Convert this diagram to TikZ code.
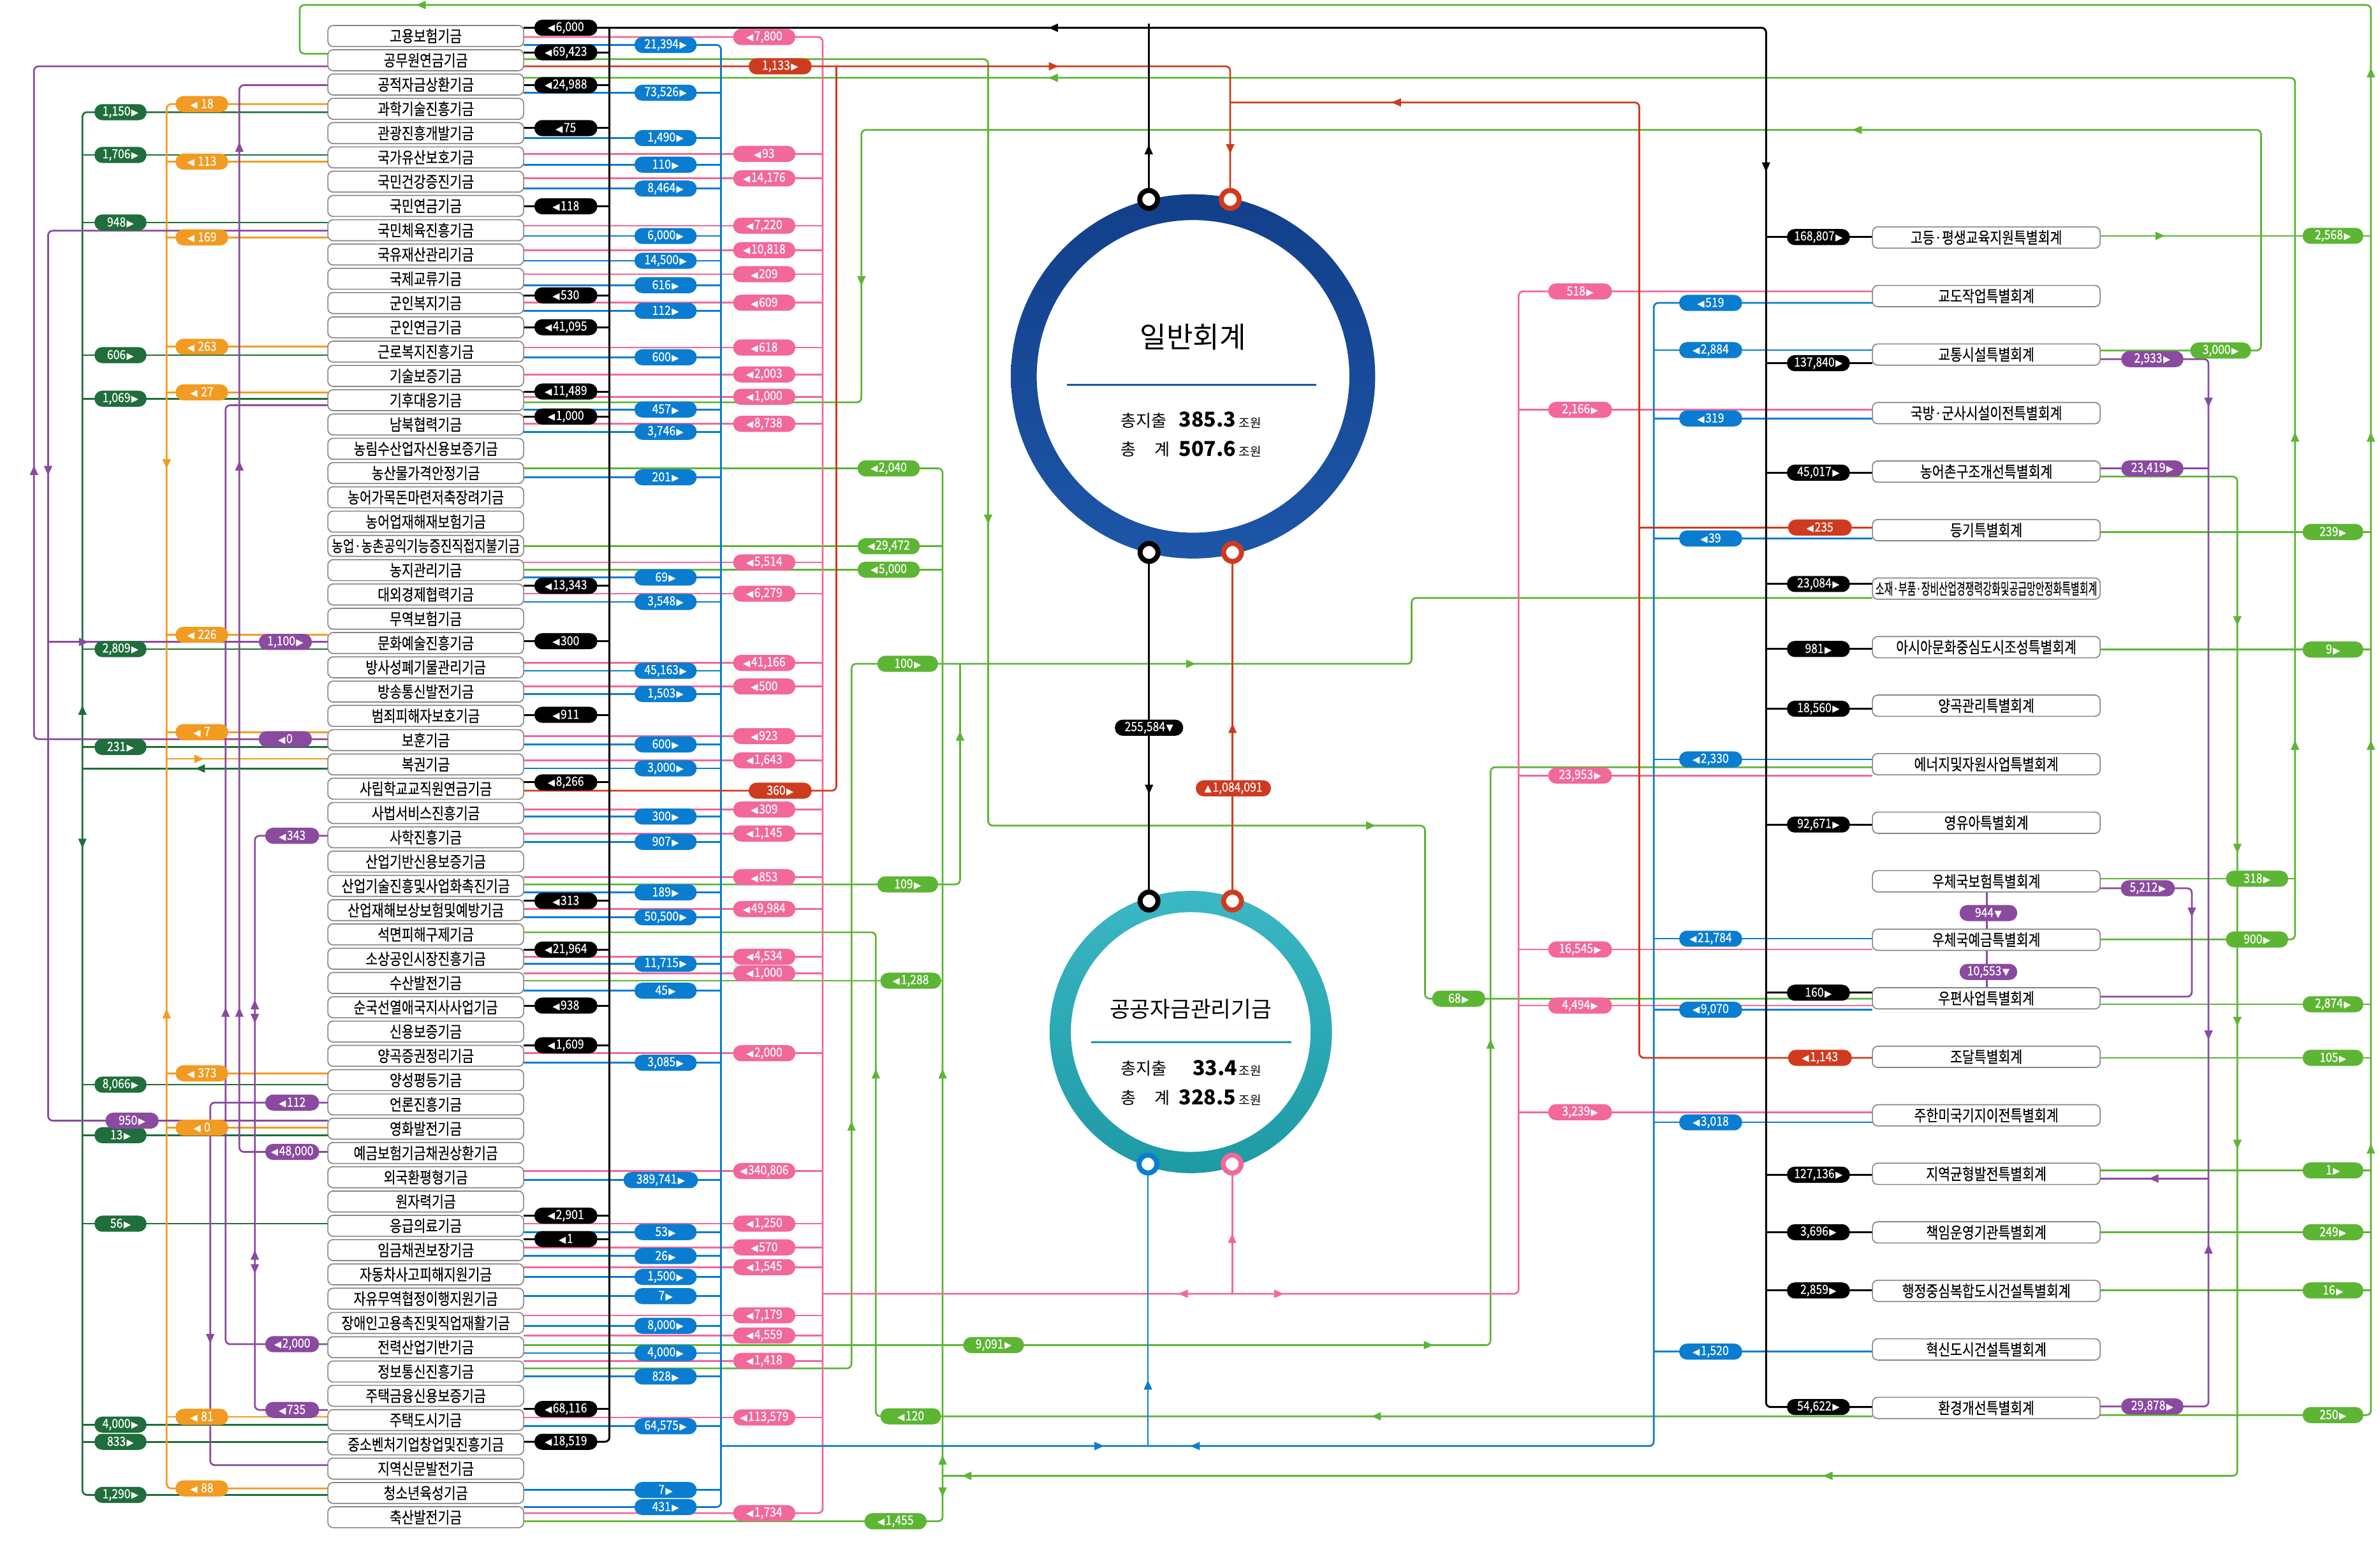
\documentclass[tikz,border=0pt]{standalone}
\usepackage{fontspec}
\usepackage{graphicx}
\setmainfont{Noto Sans CJK KR}
\newfontfamily\krn[FakeStretch=0.82,FakeBold=0.25]{Noto Sans CJK KR}
\newfontfamily\numf[FakeStretch=0.88,FakeBold=0.3]{Noto Sans CJK KR}
\newfontfamily\symf{DejaVu Sans}
\definecolor{cblu}{HTML}{0A7DD1}
\definecolor{cpnk}{HTML}{F2689A}
\definecolor{cred}{HTML}{CF3B1F}
\definecolor{cgrn}{HTML}{5DB534}
\definecolor{cdgr}{HTML}{1F6E3B}
\definecolor{corg}{HTML}{F29B22}
\definecolor{cpur}{HTML}{8A4A9F}
\definecolor{cnavyT}{HTML}{123F8A}
\definecolor{cnavyB}{HTML}{1D56A8}
\definecolor{ctealT}{HTML}{3BB7C5}
\definecolor{ctealB}{HTML}{1D9AA4}
\newcommand\tL{{\symf\fontsize{6.2}{6}\selectfont ◀}\kern0.6pt}
\newcommand\tR{\kern0.6pt{\symf\fontsize{6.2}{6}\selectfont ▶}}
\newcommand\tD{\kern0.6pt{\symf\fontsize{6.2}{6}\selectfont ▼}}
\newcommand\tU{{\symf\fontsize{6.2}{6}\selectfont ▲}\kern0.6pt}
\newcommand\fitw[2]{\sbox0{#2}\ifdim\wd0>#1\relax\resizebox{#1}{\height}{#2}\else\usebox0\fi}
\newcounter{pc}
\newcommand\pill[5]{\stepcounter{pc}\node[pill,fill=#1,minimum width=#2] (pl\thepc) at (#3,#4) {#5};}
\newcommand\aR[3]{\fill[#1] ({#2+3.2},{#3}) -- ({#2-3},{#3-2.8}) -- ({#2-3},{#3+2.8}) -- cycle;}
\newcommand\aL[3]{\fill[#1] ({#2-3.2},{#3}) -- ({#2+3},{#3-2.8}) -- ({#2+3},{#3+2.8}) -- cycle;}
\newcommand\aD[3]{\fill[#1] ({#2},{#3+3.2}) -- ({#2-2.8},{#3-3}) -- ({#2+2.8},{#3-3}) -- cycle;}
\newcommand\aU[3]{\fill[#1] ({#2},{#3-3.2}) -- ({#2-2.8},{#3+3}) -- ({#2+2.8},{#3+3}) -- cycle;}
\tikzset{
  ln/.style={line width=1.15pt, rounded corners=3pt},
  fund/.style={draw=black!48, fill=white, rounded corners=3.5pt, line width=0.7pt, minimum width=129pt, minimum height=13.8pt, inner sep=0pt, font=\krn\fontsize{10.5}{10.5}\selectfont},
  spec/.style={fund, minimum width=150pt, minimum height=14pt},
  pill/.style={rounded corners=5.2pt, minimum height=10.6pt, inner sep=0.8pt, text=white, font=\numf\fontsize{8.4}{8.4}\selectfont},
  sc/.style={circle, fill=white, line width=3.3pt, minimum size=11.8pt, inner sep=0pt},
  txt/.style={inner sep=0pt, anchor=west},
}
\begin{document}
\begin{tikzpicture}[x=1pt,y=-1pt]
\fill[white] (0,0) rectangle (1568,1018);
\useasboundingbox (0,0) rectangle (1568,1018);

% ---------------- LEFT SIDE BUSES (dark green, orange, purple) -------------
\draw[ln,cdgr] (216,73.9) -- (54.3,73.9) -- (54.3,985) -- (216,985);
\foreach \y in {102.1,146.6,234,262.7,427.7,492.2,506.4,714.7,748,806.3,938.7,950}
  \draw[ln,cdgr] (54.3,\y) -- (216,\y);
\draw[ln,corg] (216,68.6) -- (109.8,68.6) -- (109.8,980.7) -- (216,980.7);
\foreach \y in {106.5,156.4,228.5,258.5,418.3,482.4,500,707.2,743,933.6}
  \draw[ln,corg] (109.8,\y) -- (216,\y);
\draw[ln,cpur] (216,487) -- (22.4,487) -- (22.4,43.7) -- (216,43.7);
\draw[ln,cpur] (216,152) -- (31.7,152) -- (31.7,738.4) -- (216,738.4);
\draw[ln,cpur] (31.7,423) -- (216,423);
\draw[ln,cpur] (216,56.1) -- (157.7,56.1) -- (157.7,759) -- (216,759);
\draw[ln,cpur] (216,267) -- (148.6,267) -- (148.6,885.7) -- (216,885.7);
\draw[ln,cpur] (216,550.7) -- (167.9,550.7) -- (167.9,929) -- (216,929);
\draw[ln,cpur] (216,726.5) -- (138.5,726.5) -- (138.5,965.4) -- (216,965.4);

% ---------------- GREEN LONG ROUTES -------------
\draw[ln,cgrn] (216,35.4) -- (197.5,35.4) -- (197.5,3.3) -- (1562,3.3) -- (1562,932.4) -- (1383.6,932.4);
\foreach \y in {155.4,350.5,428,661.7,697,771.2,811.9,850.3}
  \draw[ln,cgrn] (1383.6,\y) -- (1562,\y);
\draw[ln,cgrn] (345,39) -- (651,39) -- (651,544) -- (938.8,544) -- (938.8,658) -- (1233.6,658);
\draw[ln,cgrn] (345,51.3) -- (1512,51.3) -- (1512,619) -- (1383.6,619);
\draw[ln,cgrn] (1383.6,579) -- (1512,579);
\draw[ln,cgrn] (345,265.1) -- (567.5,265.1) -- (567.5,85.6) -- (1489.6,85.6) -- (1489.6,231) -- (1383.6,231);
\draw[ln,cgrn] (1383.6,314) -- (1474,314) -- (1474,972.4) -- (621,972.4);
\draw[ln,cgrn] (345,308.6) -- (621,308.6) -- (621,1002.4) -- (345,1002.4);
\foreach \y in {359.9,375.4,646.2} \draw[ln,cgrn] (345,\y) -- (621,\y);
\draw[ln,cgrn] (345,901.6) -- (561,901.6) -- (561,437.4) -- (930,437.4) -- (930,394) -- (1233.6,394);
\draw[ln,cgrn] (345,582.7) -- (632.5,582.7) -- (632.5,437.4);
\draw[ln,cgrn] (345,614.3) -- (577,614.3) -- (577,933.2) -- (1233.6,933.2);
\draw[ln,cgrn] (345,886.3) -- (982,886.3) -- (982,505.5) -- (1233.6,505.5);

% ---------------- PURPLE RIGHT -------------
\draw[ln,cpur] (1383.6,236.6) -- (1455,236.6) -- (1455,926.7) -- (1383.6,926.7);
\foreach \y in {308.7,776.5} \draw[ln,cpur] (1383.6,\y) -- (1455,\y);
\draw[ln,cpur] (1383.6,585.3) -- (1444,585.3) -- (1444,656.7) -- (1383.6,656.7);
\draw[ln,cpur] (1309,587.7) -- (1309,612.2);
\draw[ln,cpur] (1309,626.2) -- (1309,650.8);

% ---------------- PINK -------------
\draw[ln,cpnk] (345,24.4) -- (542,24.4) -- (542,997) -- (345,997);
\foreach \y in {101.4,117.5,148.7,164.8,180.7,199.5,229,246.7,261.4,279.3,370.6,391.2,436.8,452.3,485,501,533.4,549.2,578,599,630.4,641.4,694,771.6,806.3,821.9,834.9,866.7,880,896.7,934}
  \draw[ln,cpnk] (345,\y) -- (542,\y);
\draw[ln,cpnk] (1233.6,192) -- (1000.5,192) -- (1000.5,852.5) -- (542,852.5);
\foreach \y in {270,511,625.6,662.6,732.8} \draw[ln,cpnk] (1000.5,\y) -- (1233.6,\y);
\draw[ln,cpnk] (811.8,852.5) -- (811.8,767);

% ---------------- BLUE -------------
\draw[ln,cblu] (345,29.6) -- (475,29.6) -- (475,993) -- (345,993);
\foreach \y in {61.1,91,108.5,124.3,155.5,171.8,187.9,204.8,235.4,269.8,284.5,314.5,380.5,396.6,442,457.3,490.5,506.3,538,554.7,588,604.4,635,652.8,700.3,777.6,811.8,827.6,841.4,854,873.6,891.5,907,939.8,981.8}
  \draw[ln,cblu] (345,\y) -- (475,\y);
\draw[ln,cblu] (1233.6,199.6) -- (1089.5,199.6) -- (1089.5,952.8) -- (475,952.8);
\foreach \y in {230.7,275.7,354.8,500.4,618.5,665.3,739.5,890.6} \draw[ln,cblu] (1089.5,\y) -- (1233.6,\y);
\draw[ln,cblu] (756.3,952.8) -- (756.3,767);

% ---------------- RED -------------
\draw[ln,cred] (345,43.7) -- (810.5,43.7) -- (810.5,131);
\draw[ln,cred] (345,521) -- (551,521) -- (551,43.7);
\draw[ln,cred] (1233.6,697) -- (1080,697) -- (1080,67.5) -- (810.5,67.5);
\draw[ln,cred] (1233.6,347.6) -- (1080,347.6);
\draw[ln,cred] (812,364) -- (812,593.7);

% ---------------- BLACK -------------
\draw[ln,black,line width=1.25pt] (345,18.3) -- (1163.5,18.3) -- (1163.5,927.1) -- (1233.6,927.1);
\draw[ln,black,line width=1.25pt] (401.5,18.3) -- (401.5,950) -- (345,950);
\foreach \y in {34.5,56.1,84.4,135.9,194.6,215.6,258,274.5,386,422.5,471,515.5,593.6,625.7,662.6,688.7,801,816.4,928.4}
  \draw[ln,black,line width=1.25pt] (345,\y) -- (401.5,\y);
\foreach \y in {156.2,239.3,311.4,384.8,427.6,467,543.3,654.1,774,811.9,850.3}
  \draw[ln,black,line width=1.25pt] (1163.5,\y) -- (1233.6,\y);
\draw[black,line width=1.25pt] (756.8,15.7) -- (756.8,131);
\draw[ln,black,line width=1.25pt] (757,364) -- (757,593.7);

% ---------------- CIRCLES -------------
\shade[top color=cnavyT, bottom color=cnavyB, even odd rule] (786,248) circle (120) (786,248) circle (103);
\shade[top color=ctealT, bottom color=ctealB, even odd rule] (784.5,680) circle (93) (784.5,680) circle (79);
\node[inner sep=0pt] (gtitle) at (786,222) {\fontsize{19}{19}\selectfont 일반회계};
\draw[cnavyB, line width=1.2pt] (703,253.4) -- (867,253.4);
\node[txt] (g1a) at (738,277) {\fontsize{11}{11}\selectfont 총지출};
\node[txt] (g1b) at (776.5,276.5) {\fontsize{13.5}{13.5}\selectfont\bfseries 385.3};
\node[txt] (g1c) at (816,278.5) {\fontsize{8}{8}\selectfont 조원};
\node[txt] (g2a) at (738,296) {\fontsize{11}{11}\selectfont 총};
\node[txt] (g2b) at (760.5,296) {\fontsize{11}{11}\selectfont 계};
\node[txt] (g2c) at (776.5,295.5) {\fontsize{13.5}{13.5}\selectfont\bfseries 507.6};
\node[txt] (g2d) at (816,297.5) {\fontsize{8}{8}\selectfont 조원};
\node[inner sep=0pt] (ptitle) at (784.5,665) {\fontsize{14.5}{14.5}\selectfont 공공자금관리기금};
\draw[ctealB, line width=1.2pt] (719,686.6) -- (851,686.6);
\node[txt] (p1a) at (738,704) {\fontsize{11}{11}\selectfont 총지출};
\node[txt] (p1b) at (785.5,703.5) {\fontsize{13.5}{13.5}\selectfont\bfseries 33.4};
\node[txt] (p1c) at (816,705.5) {\fontsize{8}{8}\selectfont 조원};
\node[txt] (p2a) at (738,723.4) {\fontsize{11}{11}\selectfont 총};
\node[txt] (p2b) at (760.5,723.4) {\fontsize{11}{11}\selectfont 계};
\node[txt] (p2c) at (776.5,722.9) {\fontsize{13.5}{13.5}\selectfont\bfseries 328.5};
\node[txt] (p2d) at (816,724.9) {\fontsize{8}{8}\selectfont 조원};
\node[sc,draw=black] (c1) at (756.8,131.4) {};
\node[sc,draw=cred] (c2) at (810.5,131.4) {};
\node[sc,draw=black] (c3) at (757,364) {};
\node[sc,draw=cred] (c4) at (812,364) {};
\node[sc,draw=black] (c5) at (757,593.7) {};
\node[sc,draw=cred] (c6) at (812,593.7) {};
\node[sc,draw=cblu] (c7) at (756.3,767) {};
\node[sc,draw=cpnk] (c8) at (811.8,767) {};

% ---------------- BOXES -------------
\foreach \i/\nm in {1/고용보험기금,2/공무원연금기금,3/공적자금상환기금,4/과학기술진흥기금,5/관광진흥개발기금,6/국가유산보호기금,7/국민건강증진기금,8/국민연금기금,9/국민체육진흥기금,10/국유재산관리기금,11/국제교류기금,12/군인복지기금,13/군인연금기금,14/근로복지진흥기금,15/기술보증기금,16/기후대응기금,17/남북협력기금,18/농림수산업자신용보증기금,19/농산물가격안정기금,20/농어가목돈마련저축장려기금,21/농어업재해재보험기금,22/농업·농촌공익기능증진직접지불기금,23/농지관리기금,24/대외경제협력기금,25/무역보험기금,26/문화예술진흥기금,27/방사성폐기물관리기금,28/방송통신발전기금,29/범죄피해자보호기금,30/보훈기금,31/복권기금,32/사립학교교직원연금기금,33/사법서비스진흥기금,34/사학진흥기금,35/산업기반신용보증기금,36/산업기술진흥및사업화촉진기금,37/산업재해보상보험및예방기금,38/석면피해구제기금,39/소상공인시장진흥기금,40/수산발전기금,41/순국선열애국지사사업기금,42/신용보증기금,43/양곡증권정리기금,44/양성평등기금,45/언론진흥기금,46/영화발전기금,47/예금보험기금채권상환기금,48/외국환평형기금,49/원자력기금,50/응급의료기금,51/임금채권보장기금,52/자동차사고피해지원기금,53/자유무역협정이행지원기금,54/장애인고용촉진및직업재활기금,55/전력산업기반기금,56/정보통신진흥기금,57/주택금융신용보증기금,58/주택도시기금,59/중소벤처기업창업및진흥기금,60/지역신문발전기금,61/청소년육성기금,62/축산발전기금}
  \node[fund] (f\i) at (280.5,{23.7+16*(\i-1)}) {\fitw{124pt}{\nm}};
\foreach \i/\nm in {1/고등·평생교육지원특별회계,2/교도작업특별회계,3/교통시설특별회계,4/국방·군사시설이전특별회계,5/농어촌구조개선특별회계,6/등기특별회계,7/소재·부품·장비산업경쟁력강화및공급망안정화특별회계,8/아시아문화중심도시조성특별회계,9/양곡관리특별회계,10/에너지및자원사업특별회계,11/영유아특별회계,12/우체국보험특별회계,13/우체국예금특별회계,14/우편사업특별회계,15/조달특별회계,16/주한미국기지이전특별회계,17/지역균형발전특별회계,18/책임운영기관특별회계,19/행정중심복합도시건설특별회계,20/혁신도시건설특별회계,21/환경개선특별회계}
  \node[spec] (s\i) at (1308.6,{156.5+38.56*(\i-1)}) {\fitw{146pt}{\nm}};

% ---------------- ARROWS ON LINES -------------
\aL{black}{694}{18.3} \aU{black}{756.8}{98.7} \aD{black}{1163.5}{110} \aD{black}{757}{520}
\aR{cred}{694}{43.7} \aD{cred}{810.5}{98} \aL{cred}{920}{67.5} \aU{cred}{812}{480}
\aL{cgrn}{277.5}{3.3} \aR{cgrn}{1423}{155.4} \aD{cgrn}{651}{342} \aR{cgrn}{903}{544}
\aL{cgrn}{694}{51.3} \aL{cgrn}{1223.6}{85.6} \aD{cgrn}{567.5}{185}
\foreach \y in {48,288,491,757} {\aU{cgrn}{1562}{\y}}
\foreach \y in {288,491} {\aU{cgrn}{1512}{\y}}
\foreach \y in {409,559,673,754} {\aD{cgrn}{1474}{\y}}
\aL{cgrn}{1204.3}{972.4} \aL{cgrn}{637}{972.4} \aU{cgrn}{621}{707.6} \aU{cgrn}{621}{962} \aD{cgrn}{621}{983}
\aU{cgrn}{561}{742} \aR{cgrn}{784.5}{437.4} \aU{cgrn}{632.5}{485} \aL{cgrn}{906.8}{933.2} \aU{cgrn}{577}{707.6}
\aR{cgrn}{941}{886.3} \aU{cgrn}{982}{688}
\aR{cblu}{724}{952.8} \aL{cblu}{787.5}{952.8} \aU{cblu}{756.3}{912.6}
\aL{cpnk}{779.6}{852.5} \aR{cpnk}{842.5}{852.5} \aU{cpnk}{811.8}{816}
\aD{cpur}{1455}{265} \aD{cpur}{1455}{682} \aU{cpur}{1455}{823} \aL{cpur}{1419}{776.5} \aD{cpur}{1444}{601}
\aU{cpur}{22.4}{310} \aD{cpur}{31.7}{310} \aR{cpur}{55}{423}
\aU{cpur}{157.7}{97} \aU{cpur}{157.7}{307} \aU{cpur}{157.7}{667} \aU{cpur}{148.6}{667}
\aU{cpur}{167.9}{662} \aD{cpur}{167.9}{671} \aU{cpur}{167.9}{827} \aD{cpur}{167.9}{836} \aD{cpur}{138.5}{882}
\aD{corg}{109.8}{305.6} \aU{corg}{109.8}{668} \aR{corg}{131}{500}
\aU{cdgr}{54.3}{468} \aD{cdgr}{54.3}{555.6} \aL{cdgr}{132}{506.4}

% ---------------- PILLS -------------
\foreach \y/\lab in {18.3/{6,000},34.5/{69,423},56.1/{24,988},84.4/{75},135.9/{118},194.6/{530},215.6/{41,095},258/{11,489},274.5/{1,000},386/{13,343},422.5/{300},471/{911},515.5/{8,266},593.6/{313},625.7/{21,964},662.6/{938},688.7/{1,609},801/{2,901},816.4/{1},928.4/{68,116},950/{18,519}}
  {\pill{black}{41.5pt}{372.8}{\y}{\tL\lab}}
\foreach \y/\lab in {29.6/{21,394},61.1/{73,526},91/{1,490},108.5/{110},124.3/{8,464},155.5/{6,000},171.8/{14,500},187.9/{616},204.8/{112},235.4/{600},269.8/{457},284.5/{3,746},314.5/{201},380.5/{69},396.6/{3,548},442/{45,163},457.3/{1,503},490.5/{600},506.3/{3,000},538/{300},554.7/{907},588/{189},604.4/{50,500},635/{11,715},652.8/{45},700.3/{3,085},811.8/{53},827.6/{26},841.4/{1,500},854/{7},873.6/{8,000},891.5/{4,000},907/{828},939.8/{64,575},981.8/{7},993/{431}}
  {\pill{cblu}{41pt}{438.5}{\y}{\lab\tR}}
\pill{cblu}{49pt}{435.3}{777.6}{389,741\tR}
\foreach \y/\lab in {24.4/{7,800},101.4/{93},117.5/{14,176},148.7/{7,220},164.8/{10,818},180.7/{209},199.5/{609},229/{618},246.7/{2,003},261.4/{1,000},279.3/{8,738},370.6/{5,514},391.2/{6,279},436.8/{41,166},452.3/{500},485/{923},501/{1,643},533.4/{309},549.2/{1,145},578/{853},599/{49,984},630.4/{4,534},641.4/{1,000},694/{2,000},771.6/{340,806},806.3/{1,250},821.9/{570},834.9/{1,545},866.7/{7,179},880/{4,559},896.7/{1,418},934/{113,579},997/{1,734}}
  {\pill{cpnk}{41pt}{503.5}{\y}{\tL\lab}}
\pill{cred}{41.5pt}{514}{43.7}{1,133\tR}
\pill{cred}{41.5pt}{514}{521}{360\tR}
\pill{cred}{42pt}{1199}{347.6}{\tL235}
\pill{cred}{42pt}{1199}{697}{\tL1,143}
\pill{cgrn}{41pt}{585.5}{308.6}{\tL2,040}
\pill{cgrn}{41pt}{585.5}{359.9}{\tL29,472}
\pill{cgrn}{41pt}{585.5}{375.4}{\tL5,000}
\pill{cgrn}{40pt}{600}{646.2}{\tL1,288}
\pill{cgrn}{41pt}{590}{1002.4}{\tL1,455}
\pill{cgrn}{40pt}{598}{437.4}{100\tR}
\pill{cgrn}{40pt}{598}{582.7}{109\tR}
\pill{cgrn}{40pt}{600}{933.2}{\tL120}
\pill{cgrn}{40pt}{654.6}{886.3}{9,091\tR}
\pill{cgrn}{35pt}{961}{658}{68\tR}
\foreach \y/\lab in {73.9/{1,150},102.1/{1,706},146.6/{948},234/{606},262.7/{1,069},427.7/{2,809},492.2/{231},714.7/{8,066},748/{13},806.3/{56},938.7/{4,000},950/{833},985/{1,290}}
  {\pill{cdgr}{34.3pt}{79.4}{\y}{\lab\tR}}
\foreach \y/\lab in {68.6/{18},106.5/{113},156.4/{169},228.5/{263},258.5/{27},418.3/{226},482.4/{7},707.2/{373},743/{0},933.6/{81},980.7/{88}}
  {\pill{corg}{34.7pt}{133}{\y}{\tL\ \lab}}
\pill{cpur}{35pt}{188}{487}{\tL0}
\pill{cpur}{35pt}{188}{423}{1,100\tR}
\pill{cpur}{35pt}{87}{738.4}{950\tR}
\pill{cpur}{35.5pt}{192.5}{550.7}{\tL343}
\pill{cpur}{35.5pt}{192.5}{726.5}{\tL112}
\pill{cpur}{35.5pt}{192.5}{759}{\tL48,000}
\pill{cpur}{35.5pt}{192.5}{885.7}{\tL2,000}
\pill{cpur}{35.5pt}{192.5}{929}{\tL735}
\foreach \y/\lab in {156.2/{168,807},239.3/{137,840},311.4/{45,017},384.8/{23,084},427.6/{981},467/{18,560},543.3/{92,671},654.1/{160},774/{127,136},811.9/{3,696},850.3/{2,859},927.1/{54,622}}
  {\pill{black}{41.5pt}{1198}{\y}{\lab\tR}}
\foreach \y/\lab in {199.6/{519},230.7/{2,884},275.7/{319},354.8/{39},500.4/{2,330},618.5/{21,784},665.3/{9,070},739.5/{3,018},890.6/{1,520}}
  {\pill{cblu}{41.5pt}{1127}{\y}{\tL\lab}}
\foreach \y/\lab in {192/{518},270/{2,166},511/{23,953},625.6/{16,545},662.6/{4,494},732.8/{3,239}}
  {\pill{cpnk}{42pt}{1041}{\y}{\lab\tR}}
\foreach \y/\lab in {155.4/{2,568},350.5/{239},428/{9},661.7/{2,874},697/{105},771.2/{1},811.9/{249},850.3/{16},932.4/{250}}
  {\pill{cgrn}{40pt}{1537}{\y}{\lab\tR}}
\pill{cgrn}{40pt}{1463}{231}{3,000\tR}
\pill{cgrn}{41pt}{1487}{579}{318\tR}
\pill{cgrn}{41pt}{1487}{619}{900\tR}
\pill{cpur}{41pt}{1418}{236.6}{2,933\tR}
\pill{cpur}{41pt}{1418}{308.7}{23,419\tR}
\pill{cpur}{41pt}{1418}{926.7}{29,878\tR}
\pill{cpur}{35.6pt}{1415}{585.3}{5,212\tR}
\pill{cpur}{38pt}{1310}{601.6}{944\tD}
\pill{cpur}{38pt}{1310}{640.4}{10,553\tD}
\pill{black}{45pt}{757}{479.5}{255,584\tD}
\pill{cred}{49.5pt}{812.6}{519.4}{\tU1,084,091}
\end{tikzpicture}
\end{document}
